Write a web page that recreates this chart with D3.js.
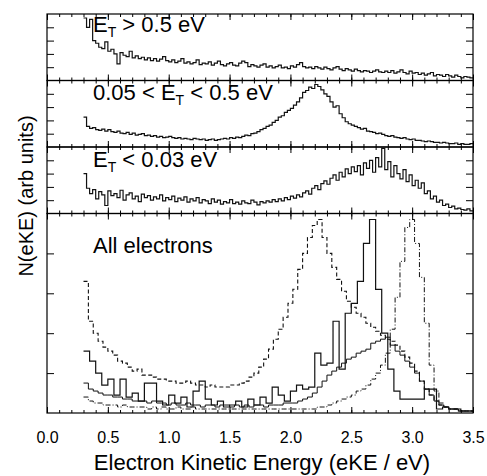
<!DOCTYPE html>
<html>
<head>
<meta charset="utf-8">
<script src="https://cdn.jsdelivr.net/npm/d3@7"></script>
<style>
body{margin:0;background:white;}
svg{display:block;font-family:"Liberation Sans",Arial,sans-serif;}
</style>
</head>
<body>
<svg id="chart"></svg>
<script>
// bin settings (eV)
var binStart = 0.30;
var binFine = 0.025, binMid = 0.04, binCoarse = 0.05;

var ticksX = [0.0, 0.5, 1.0, 1.5, 2.0, 2.5, 3.0, 3.5];

// E_T > 0.5 eV
var hot = [94,80,92,60,56,50,48,58,44,47, 40,25,42,38,36,44,34,37,33,35,
  31,34,30,33,29,32,36,30,28,31, 27,29,33,26,28,25,27,31,24,26,
  25,28,23,26,29,24,22,25,27,23, 22,26,29,27,21,24,22,20,23,25,
  20,22,19,21,23,19,20,18,22,20, 24,27,21,19,20,18,21,19,17,20,
  18,16,19,21,17,15,18,16,14,17, 15,13,15,14,12,14,16,13,12,14,
  12,15,11,13,16,12,10,14,11,12, 9,11,8,10,12,7,9,8,6,9,
  7,5,8,6,4,6,5,4];

// 0.05 < E_T < 0.5 eV
var mid = [45,31,28,29,26,25,27,24,26,23, 22,24,21,20,22,19,21,18,19,20,
  17,18,16,17,15,16,14,15,16,14, 13,14,12,13,12,11,13,12,11,12,
  10,11,12,10,11,12,13,12,14,13, 15,14,16,18,17,20,21,23,26,28,
  31,33,37,40,45,47,52,55,58,63, 68,74,82,85,90,88,94,91,86,80,
  76,68,60,62,50,44,38,35,33,31, 29,27,28,24,23,22,20,21,19,17,
  16,17,15,14,13,14,12,11,12,10, 10,9,8,9,8,7,7,6,7,6,
  5,5,6,4,5,4,4,5];

// E_T < 0.03 eV
var cold = [60,38,30,36,22,33,28,12,34,27, 30,24,35,20,28,31,22,26,18,29,
  24,27,20,25,22,28,19,24,21,26, 18,23,20,25,17,22,19,24,16,21,
  19,15,22,17,20,14,18,16,21,15, 17,14,19,16,15,20,17,13,18,16,
  19,17,21,18,22,19,24,21,26,23, 28,25,31,34,29,38,42,36,45,49,
  44,53,58,50,62,55,67,60,70,63, 72,58,76,68,80,62,84,70,98,66,
  78,55,72,60,52,66,48,58,42,50, 38,46,30,34,22,26,17,20,12,14,
  9,11,7,8,6,5,7,4];

// All electrons: four spectra
var allDashed = [66,46,40,36,33,31,29,26,25,23, 21,22,19,19,18,17,17,16,16,15,
  15,16,15,14,14,13,14,13,13,13, 14,14,15,16,18,20,23,27,32,37,
  42,48,55,62,72,80,88,94,97,88, 80,73,67,61,56,53,50,48,45,43,
  41,39,37,36,34,31,28,25,21,16, 12,9,6,4,3,2,2,1,1,1];

var allCoarse = [31,26,20,14,17,9,17,8,10,6, 15,15,6,4,9,5,8,3,11,16,
  7,4,6,3,4,6,3,7,4,8, 5,13,9,6,11,14,12,13,30,24,
  25,46,22,50,55,66,85,97,62,40, 22,11,7,7,7,7,12,12,2,3,
  2,2,1,1];

var allSmooth = [15,12,11,10,9,9,8,8,7,7, 6,6,6,5,6,5,5,4,5,4,
  4,5,4,4,3,4,4,3,4,4, 3,4,3,4,3,4,4,3,4,4,
  4,5,5,5,6,7,8,10,13,16, 19,21,23,25,27,28,30,31,32,35,
  36,37,38,34,31,29,26,23,20,16, 12,9,6,4,3,2,2,1,1,1];

var allDashDot = [8,6,5,5,4,4,4,3,4,3, 3,3,3,2,3,2,3,2,2,3,
  2,2,3,2,2,2,2,2,2,2, 2,2,2,2,2,2,2,2,2,2,
  2,2,2,2,2,2,2,2,3,3, 4,5,6,7,8,9,11,12,14,17,
  20,24,30,42,58,76,93,97,85,68, 45,24,11,5,3,2,2,1,1,1];

var margin = {left: 47, right: 14, top: 14},
    width = 487 - margin.left - margin.right,
    small = 66.5, big = 199.5;

var svg = d3.select("#chart").attr("width", 487).attr("height", 476);

var x = d3.scaleLinear().domain([0, 3.5]).range([margin.left, margin.left + width]);

var panels = [
  {top: margin.top, h: small, label: ["E", "T", " > 0.5 eV"], ly: 32,
   series: [{v: hot, w: binFine, sw: 1.2}]},
  {top: margin.top + small, h: small, label: ["0.05 < E", "T", " < 0.5 eV"], ly: 100,
   series: [{v: mid, w: binFine, sw: 1.2}]},
  {top: margin.top + 2 * small, h: small, label: ["E", "T", " < 0.03 eV"], ly: 167,
   series: [{v: cold, w: binFine, sw: 1.2}]},
  {top: margin.top + 3 * small, h: big, label: ["All electrons"], ly: 253,
   series: [{v: allSmooth, w: binMid, sw: 1},
            {v: allDashed, w: binMid, sw: 1.1, dash: "4,2.5"},
            {v: allDashDot, w: binMid, sw: 1, dash: "5,2,1,2"},
            {v: allCoarse, w: binCoarse, sw: 1.2}]}
];

var minor = d3.range(0, 36).map(i => i / 10);

panels.forEach(function(p){
  var y = d3.scaleLinear().domain([0, 100]).range([p.top + p.h, p.top]);
  var g = svg.append("g");

  p.series.forEach(function(s){
    var pts = s.v.map((d, i) => [binStart + i * s.w, d]);
    pts.push([binStart + s.v.length * s.w, s.v[s.v.length - 1]]);
    g.append("path")
      .datum(pts)
      .attr("fill", "none")
      .attr("stroke", "#111")
      .attr("stroke-width", s.sw)
      .attr("stroke-dasharray", s.dash || null)
      .attr("d", d3.line().x(d => x(d[0])).y(d => y(d[1])).curve(d3.curveStepAfter));
  });

  // x ticks on both edges, inward
  [[d3.axisTop, p.top + p.h], [d3.axisBottom, p.top]].forEach(function(a){
    g.append("g").attr("transform", "translate(0," + a[1] + ")")
      .call(a[0](x).tickValues(minor).tickSize(3).tickFormat(""))
      .call(s => s.select(".domain").remove());
    g.append("g").attr("transform", "translate(0," + a[1] + ")")
      .call(a[0](x).tickValues(ticksX).tickSize(6).tickFormat(""))
      .call(s => s.select(".domain").remove());
  });

  // y ticks left and right
  g.append("g").attr("transform", "translate(" + margin.left + ",0)")
    .call(d3.axisRight(y).tickValues([20, 40, 60, 80]).tickSize(7).tickFormat(""))
    .call(s => s.select(".domain").remove());
  g.append("g").attr("transform", "translate(" + (margin.left + width) + ",0)")
    .call(d3.axisLeft(y).tickValues([20, 40, 60, 80]).tickSize(7).tickFormat(""))
    .call(s => s.select(".domain").remove());

  g.append("rect")
    .attr("x", margin.left).attr("y", p.top)
    .attr("width", width).attr("height", p.h)
    .attr("fill", "none").attr("stroke", "black").attr("stroke-width", 1.2);

  var t = g.append("text").attr("x", 93).attr("y", p.ly)
    .style("font-size", "22px").attr("fill", "black");
  t.append("tspan").text(p.label[0]);
  if (p.label.length > 1) {
    t.append("tspan").attr("dy", 5).style("font-size", "14px").text(p.label[1]);
    t.append("tspan").attr("dy", -5).text(p.label[2]);
  }
});

svg.selectAll(".tick line").attr("stroke", "black");

// tick labels under the frame
var bottom = margin.top + 3 * small + big;
svg.append("g").attr("transform", "translate(0," + bottom + ")")
  .call(d3.axisBottom(x).tickValues(ticksX).tickSize(0).tickPadding(19).tickFormat(d3.format(".1f")))
  .call(s => s.select(".domain").remove())
  .selectAll("text")
  .style("font-size", "16px")
  .style("font-family", "'Liberation Sans', Arial, sans-serif")
  .attr("fill", "black");

svg.append("text")
  .attr("x", 262).attr("y", 470)
  .attr("text-anchor", "middle")
  .style("font-size", "22px")
  .text("Electron Kinetic Energy (eKE / eV)");

svg.append("text")
  .attr("transform", "translate(33,196) rotate(-90)")
  .attr("text-anchor", "middle")
  .style("font-size", "20px")
  .text("N(eKE) (arb units)");
</script>
</body>
</html>
